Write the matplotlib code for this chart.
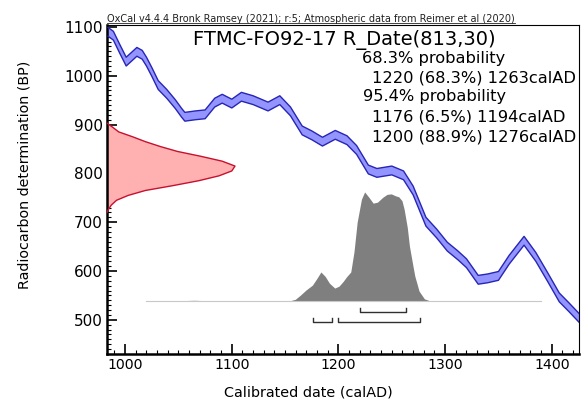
import numpy as np
import matplotlib
matplotlib.use('Agg')
import matplotlib.pyplot as plt
from matplotlib.ticker import MultipleLocator
from matplotlib.lines import Line2D

# calibration curve (calAD, BP centre)
curve_year = [984, 989, 995, 1001, 1006, 1011, 1016, 1020, 1025, 1031, 1039, 1047, 1053,
              1056, 1066, 1075, 1084, 1091, 1100, 1109, 1120, 1134, 1145, 1155, 1166,
              1175, 1185, 1197, 1208, 1217, 1228, 1236, 1250, 1261, 1270, 1282, 1292,
              1302, 1312, 1320, 1331, 1340, 1350, 1360, 1374, 1385, 1396, 1407, 1416, 1426]
curve_bp = [1090, 1082, 1055, 1029, 1039, 1049, 1043, 1029, 1008, 981, 963, 942, 924,
            916, 919, 921, 945, 953, 943, 957, 950, 937, 950, 927, 888,
            878, 865, 879, 868, 848, 808, 801, 806, 796, 765, 701, 677,
            650, 632, 616, 582, 585, 590, 623, 662, 629, 588, 546, 526, 503]
curve_err = 9

# radiocarbon date R_Date(813,30), width of the red shape in years
rdate_bp = [903, 895, 885, 875, 865, 855, 845, 835, 825, 815, 805, 795, 785, 775, 765,
            755, 745, 735, 725, 720]
rdate_width = [0, 5, 11, 24, 36, 50, 66, 88, 108, 120, 117, 105, 86, 62, 36, 20, 9, 4, 1, 0]

# calibrated distribution (grey)
cal_year = [1020, 1050, 1065, 1080, 1155, 1160, 1165, 1170, 1176, 1180, 1184, 1188, 1192,
            1197, 1201, 1205, 1208, 1212, 1215, 1218, 1222, 1225, 1229, 1233, 1237, 1242,
            1246, 1250, 1254, 1257, 1260, 1262, 1265, 1267, 1270, 1272, 1276, 1281, 1286, 1390]
cal_height = [0, 0, 1, 0, 0, 3, 12, 22, 32, 45, 59, 50, 36, 26, 30, 40, 49, 59, 100, 161,
              208, 223, 212, 200, 202, 212, 218, 219, 215, 213, 205, 188, 150, 112, 75, 51,
              20, 4, 0, 0]
cal_base = 538

range_68 = [(1220, 1263)]
range_95 = [(1176, 1194), (1200, 1276)]

title = 'FTMC-FO92-17 R_Date(813,30)'
prob_lines = ['68.3% probability', '1220 (68.3%) 1263calAD', '95.4% probability',
              '1176 (6.5%) 1194calAD', '1200 (88.9%) 1276calAD']
header = 'OxCal v4.4.4 Bronk Ramsey (2021); r:5; Atmospheric data from Reimer et al (2020)'

W, H = 582, 404
fig = plt.figure(figsize=(W / 100, H / 100), dpi=100)
ax = fig.add_axes([107 / W, 1 - 354 / H, (579 - 107) / W, (354 - 25) / H])

xmin, xmax = 983, 1425.5
ax.set_xlim(xmin, xmax)
ax.set_ylim(430, 1104)

# calibration curve
cy = np.array(curve_bp)
ax.fill_between(curve_year, cy - curve_err, cy + curve_err, facecolor='#9494ff', edgecolor='none', zorder=2)
ax.plot(curve_year, cy + curve_err, color='#2626b4', lw=1.0, zorder=3)
ax.plot(curve_year, cy - curve_err, color='#2626b4', lw=1.0, zorder=3)

# radiocarbon date
rx = xmin + np.array(rdate_width)
ax.fill_betweenx(rdate_bp, xmin, rx, facecolor='#ffb0b0', edgecolor='none', zorder=2)
ax.plot(rx, rdate_bp, color='#c8102e', lw=1.0, zorder=3)

# calibrated distribution
ch = cal_base + np.array(cal_height)
ax.fill_between(cal_year, cal_base, ch, facecolor='#7f7f7f', edgecolor='none', zorder=2)
ax.plot([cal_year[0], cal_year[-1]], [cal_base, cal_base], color='#c8c8c8', lw=0.8, zorder=2)

# ranges
def bracket(a, b, y, h=8):
    ax.plot([a, a, b, b], [y + h, y, y, y + h], color='#303030', lw=1.0, zorder=3)

for a, b in range_68:
    bracket(a, b, 517)
for a, b in range_95:
    bracket(a, b, 496)

ax.xaxis.set_major_locator(MultipleLocator(100))
ax.xaxis.set_minor_locator(MultipleLocator(10))
ax.yaxis.set_major_locator(MultipleLocator(100))
ax.yaxis.set_minor_locator(MultipleLocator(10))
ax.tick_params(which='both', direction='in', top=False, right=False, pad=3)
ax.tick_params(axis='x', labelsize=10.2)
ax.tick_params(axis='y', labelsize=11)
ax.tick_params(which='major', length=7, width=1.2)
ax.tick_params(which='minor', length=3, width=0.8)
for s in ['left', 'bottom']:
    ax.spines[s].set_linewidth(1.8)
for s in ['top', 'right']:
    ax.spines[s].set_linewidth(0.8)

fig.text(308 / W, 1 - 393 / H, 'Calibrated date (calAD)', ha='center', va='center', fontsize=10.4)
fig.text(25 / W, 1 - 175 / H, 'Radiocarbon determination (BP)', ha='center', va='center',
         rotation=90, fontsize=10.3)

fig.text(193 / W, 1 - 40 / H, title, ha='left', va='center', fontsize=14)
xs = [362, 372, 363, 372, 372]
ys = [59, 78, 97, 117, 137]
for t, x, y in zip(prob_lines, xs, ys):
    fig.text(x / W, 1 - y / H, t, ha='left', va='center', fontsize=11.7)

ht = fig.text(107 / W, 1 - 19 / H, header, ha='left', va='center', fontsize=7, color='#222222')
fig.canvas.draw()
bb = ht.get_window_extent().transformed(fig.transFigure.inverted())
fig.add_artist(Line2D([bb.x0, bb.x1], [bb.y0 + 0.002, bb.y0 + 0.002], color='#222222', lw=0.6,
                      transform=fig.transFigure))

fig.savefig('out.png', dpi=100)
